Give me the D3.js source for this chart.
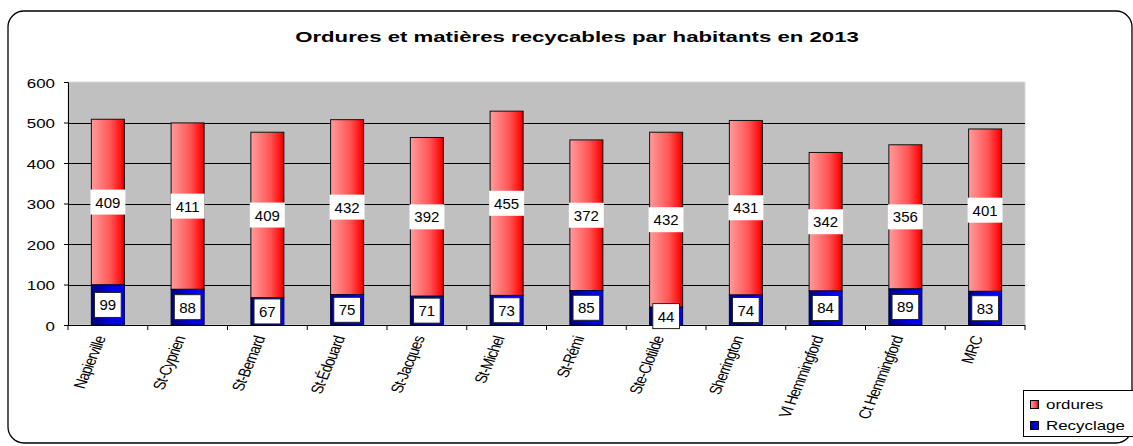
<!DOCTYPE html>
<html lang="fr">
<head>
<meta charset="UTF-8">
<title>Ordures et matières recycables par habitants en 2013</title>
<script src="https://d3js.org/d3.v7.min.js"></script>
<style>
    body { margin: 0; background: #fff; }
    svg text { font-family: Arial, "Liberation Sans", sans-serif; fill: #000; }
</style>
</head>
<body>
<svg id="chart"></svg>
<script>
    // data
    const municipalites = ["Napierville", "St-Cyprien", "St-Bernard", "St-Édouard", "St-Jacques", "St-Michel",
        "St-Rémi", "Ste-Clotilde", "Sherrington", "Vl Hemmingford", "Ct Hemmingford", "MRC"];
    const ordures = [409, 411, 409, 432, 392, 455, 372, 432, 431, 342, 356, 401];
    const recyclage = [99, 88, 67, 75, 71, 73, 85, 44, 74, 84, 89, 83];
    const yTicks = [0, 100, 200, 300, 400, 500, 600];
    const seriesNames = ["ordures", "Recyclage"];
    const titre = "Ordures et matières recycables par habitants en 2013";

    const W = 1133, H = 446;
    const plot = { left: 68, right: 1025, top: 82, bottom: 325 };
    const SX = 1.3; // the original text looks stretched sideways

    const svg = d3.select("#chart").attr("width", W).attr("height", H);

    // gradients
    const defs = svg.append("defs");
    const gRed = defs.append("linearGradient").attr("id", "gRed");
    gRed.append("stop").attr("offset", "0%").attr("stop-color", "#ff9c9c");
    gRed.append("stop").attr("offset", "60%").attr("stop-color", "#ff5252");
    gRed.append("stop").attr("offset", "92%").attr("stop-color", "#ff0a0a");
    gRed.append("stop").attr("offset", "100%").attr("stop-color", "#c80000");
    const gBlue = defs.append("linearGradient").attr("id", "gBlue");
    gBlue.append("stop").attr("offset", "0%").attr("stop-color", "#00007a");
    gBlue.append("stop").attr("offset", "55%").attr("stop-color", "#0000e0");
    gBlue.append("stop").attr("offset", "100%").attr("stop-color", "#0000ff");

    // outer frame
    svg.append("rect")
        .attr("x", 8).attr("y", 11)
        .attr("width", 1124).attr("height", 432)
        .attr("rx", 16).attr("ry", 16)
        .attr("fill", "#fff")
        .attr("stroke", "#000").attr("stroke-width", 1.3);

    // title
    svg.append("text")
        .attr("transform", "translate(577,42) scale(1.48,1)")
        .attr("text-anchor", "middle")
        .style("font-size", "15px")
        .style("font-weight", "bold")
        .text(titre);

    const x = d3.scaleBand()
        .domain(municipalites)
        .range([plot.left, plot.right])
        .paddingInner(0.586)
        .paddingOuter(0.293);

    const y = d3.scaleLinear()
        .domain([0, 600])
        .range([plot.bottom, plot.top]);

    // plot background
    svg.append("rect")
        .attr("x", plot.left).attr("y", plot.top)
        .attr("width", plot.right - plot.left).attr("height", plot.bottom - plot.top)
        .attr("fill", "#c0c0c0")
        .attr("stroke", "#d8d8d8").attr("stroke-width", 1);

    // gridlines
    svg.append("g")
        .selectAll("line")
        .data(yTicks.filter(d => d > 0 && d < 600))
        .enter().append("line")
        .attr("x1", plot.left).attr("x2", plot.right)
        .attr("y1", d => Math.round(y(d)) + 0.5).attr("y2", d => Math.round(y(d)) + 0.5)
        .attr("stroke", "#000").attr("stroke-width", 1);

    // y axis
    const yAxis = svg.append("g")
        .attr("transform", `translate(${plot.left},0)`)
        .call(d3.axisLeft(y).tickValues(yTicks).tickSize(4).tickPadding(6));
    yAxis.select(".domain").attr("stroke", "#000");
    yAxis.selectAll(".tick line").attr("stroke", "#000");
    yAxis.selectAll(".tick text")
        .attr("x", null).attr("dy", null)
        .attr("text-anchor", "end")
        .style("font-size", "13px")
        .attr("transform", `translate(-13,5) scale(${SX},1)`);

    // bars
    const bars = svg.append("g");
    municipalites.forEach((m, i) => {
        const x0 = x(m);
        const bw = x.bandwidth();
        const yR = y(recyclage[i]);
        const yT = y(recyclage[i] + ordures[i]);
        bars.append("rect")
            .attr("x", x0).attr("y", yT)
            .attr("width", bw).attr("height", yR - yT)
            .attr("fill", "url(#gRed)")
            .attr("stroke", "#111").attr("stroke-width", 1);
        bars.append("rect")
            .attr("x", x0).attr("y", yR)
            .attr("width", bw).attr("height", y(0) - yR)
            .attr("fill", "url(#gBlue)")
            .attr("stroke", "#000033").attr("stroke-width", 1);
    });

    // x axis
    svg.append("line")
        .attr("x1", plot.left).attr("x2", plot.right)
        .attr("y1", plot.bottom + 0.5).attr("y2", plot.bottom + 0.5)
        .attr("stroke", "#000");
    svg.append("g")
        .selectAll("line")
        .data(d3.range(municipalites.length + 1))
        .enter().append("line")
        .attr("x1", i => plot.left + i * x.step()).attr("x2", i => plot.left + i * x.step())
        .attr("y1", plot.bottom).attr("y2", plot.bottom + 5)
        .attr("stroke", "#000");

    svg.append("g")
        .selectAll("text")
        .data(municipalites)
        .enter().append("text")
        .attr("text-anchor", "end")
        .style("font-size", "13px")
        .style("letter-spacing", "-0.6px")
        .attr("transform", d => `translate(${x(d) + x.bandwidth() / 2 - 2},${plot.bottom + 13}) scale(${SX},1) rotate(-72)`)
        .text(d => d);

    // value labels
    function label(cx, cy, value, boxed) {
        const g = svg.append("g");
        const t = g.append("text")
            .attr("x", cx).attr("y", cy + 5.5)
            .attr("text-anchor", "middle")
            .style("font-size", "15px")
            .text(value);
        const w = t.node().getComputedTextLength() + 10;
        g.insert("rect", "text")
            .attr("x", cx - w / 2).attr("y", cy - 12.5)
            .attr("width", w).attr("height", 25)
            .attr("fill", "#fff")
            .attr("stroke", boxed ? "#222" : "none")
            .attr("stroke-width", 1);
    }
    municipalites.forEach((m, i) => {
        const cx = x(m) + x.bandwidth() / 2;
        label(cx, y(recyclage[i] + ordures[i] / 2), ordures[i], false);
        label(cx, y(recyclage[i] / 2), recyclage[i], true);
    });

    // legend
    const leg = svg.append("g").attr("transform", "translate(1023,390)");
    leg.append("rect")
        .attr("x", 0.5).attr("y", 0.5)
        .attr("width", 140).attr("height", 46)
        .attr("fill", "#fff").attr("stroke", "#000");
    seriesNames.forEach((s, i) => {
        leg.append("rect")
            .attr("x", 7.5).attr("y", 10.5 + i * 21)
            .attr("width", 8).attr("height", 8)
            .attr("fill", i === 0 ? "url(#gRed)" : "url(#gBlue)")
            .attr("stroke", "#000");
        leg.append("text")
            .attr("transform", `translate(23,${19 + i * 21}) scale(${SX},1)`)
            .style("font-size", "13px")
            .text(s);
    });
</script>
</body>
</html>
